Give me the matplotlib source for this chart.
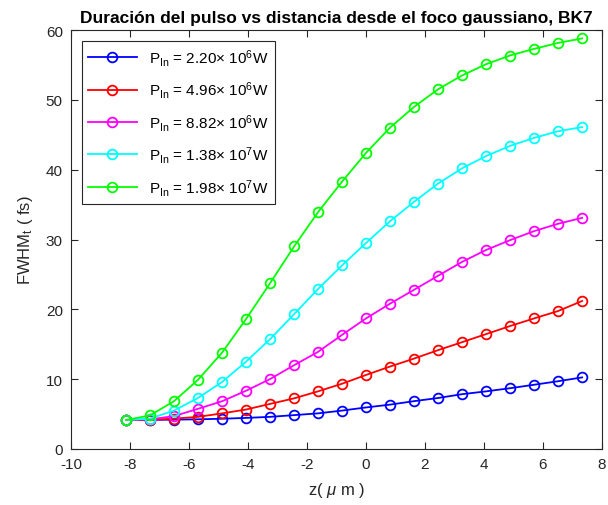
import matplotlib
matplotlib.use("Agg")
import matplotlib.pyplot as plt

plt.rcParams["font.family"] = ["Liberation Sans", "DejaVu Sans"]
plt.rcParams["mathtext.fontset"] = "custom"
plt.rcParams["mathtext.rm"] = "Liberation Sans"
plt.rcParams["mathtext.it"] = "Liberation Sans:italic"
plt.rcParams["axes.unicode_minus"] = False

# posiciones z (um)
z = [-8.14, -7.33, -6.51, -5.70, -4.88, -4.07, -3.26, -2.44, -1.63, -0.81,
     0.0, 0.81, 1.63, 2.44, 3.26, 4.07, 4.88, 5.70, 6.51, 7.33]

# FWHM_t (fs) para cada potencia
fwhm_p1 = [4.15, 4.17, 4.20, 4.25, 4.33, 4.45, 4.60, 4.85, 5.10, 5.50,
           5.95, 6.35, 6.85, 7.30, 7.85, 8.25, 8.70, 9.20, 9.70, 10.25]
fwhm_p2 = [4.15, 4.17, 4.35, 4.60, 5.10, 5.65, 6.45, 7.25, 8.25, 9.35,
           10.6, 11.8, 12.95, 14.15, 15.3, 16.45, 17.6, 18.7, 19.75, 21.2]
fwhm_p3 = [4.15, 4.24, 4.71, 5.75, 6.84, 8.34, 10.0, 12.0, 13.9, 16.35,
           18.7, 20.8, 22.8, 24.8, 26.8, 28.5, 29.9, 31.2, 32.25, 33.1]
fwhm_p4 = [4.15, 4.35, 5.50, 7.30, 9.60, 12.5, 15.7, 19.3, 22.9, 26.3,
           29.5, 32.6, 35.4, 38.0, 40.2, 41.95, 43.4, 44.55, 45.5, 46.1]
fwhm_p5 = [4.15, 4.80, 6.85, 9.90, 13.8, 18.6, 23.7, 29.0, 33.9, 38.3,
           42.4, 46.0, 49.0, 51.5, 53.5, 55.1, 56.35, 57.3, 58.15, 58.8]

series = [fwhm_p1, fwhm_p2, fwhm_p3, fwhm_p4, fwhm_p5]
labels = [r"P$_{\mathrm{In}}$ = 2.20$\times$ 10$^{6}$W",
          r"P$_{\mathrm{In}}$ = 4.96$\times$ 10$^{6}$W",
          r"P$_{\mathrm{In}}$ = 8.82$\times$ 10$^{6}$W",
          r"P$_{\mathrm{In}}$ = 1.38$\times$ 10$^{7}$W",
          r"P$_{\mathrm{In}}$ = 1.98$\times$ 10$^{7}$W"]
colors = ["#0000ff", "#ff0000", "#ff00ff", "#00ffff", "#00ff00"]

fig = plt.figure(figsize=(6.08, 5.06), dpi=100)
ax = fig.add_axes([0.117, 0.1107, 0.873, 0.828])

for y, lab, c in zip(series, labels, colors):
    ax.plot(z, y, "-o", color=c, label=lab, lw=1.3, markersize=7,
            markerfacecolor="none", markeredgewidth=1.3)

ax.set_xlim(-10, 8)
ax.set_ylim(0, 60)
ax.set_xticks(range(-10, 9, 2))
ax.set_yticks(range(0, 61, 10))
ax.tick_params(direction="in", top=True, right=True, labelsize=11,
               colors="#262626", length=5)
ax.tick_params(axis="x", pad=6)
ax.tick_params(axis="y", pad=6)
for s in ax.spines.values():
    s.set_color("#262626")
    s.set_linewidth(0.8)

ax.set_title("Duración del pulso vs distancia desde el foco gaussiano, BK7",
             fontsize=12.5, fontweight="bold", pad=6)
ax.set_xlabel(r"z( $\mu$ m )", fontsize=12, color="#262626", labelpad=6)
ax.set_ylabel(r"FWHM$_{\mathrm{t}}$ ( fs)", fontsize=12, color="#262626",
              labelpad=8)

leg = ax.legend(loc="upper left", fontsize=11, handlelength=3.2,
                fancybox=False, edgecolor="#262626", framealpha=1,
                borderaxespad=0.7, labelspacing=0.75)
leg.get_frame().set_linewidth(0.8)

fig.savefig("out.png", dpi=100)
